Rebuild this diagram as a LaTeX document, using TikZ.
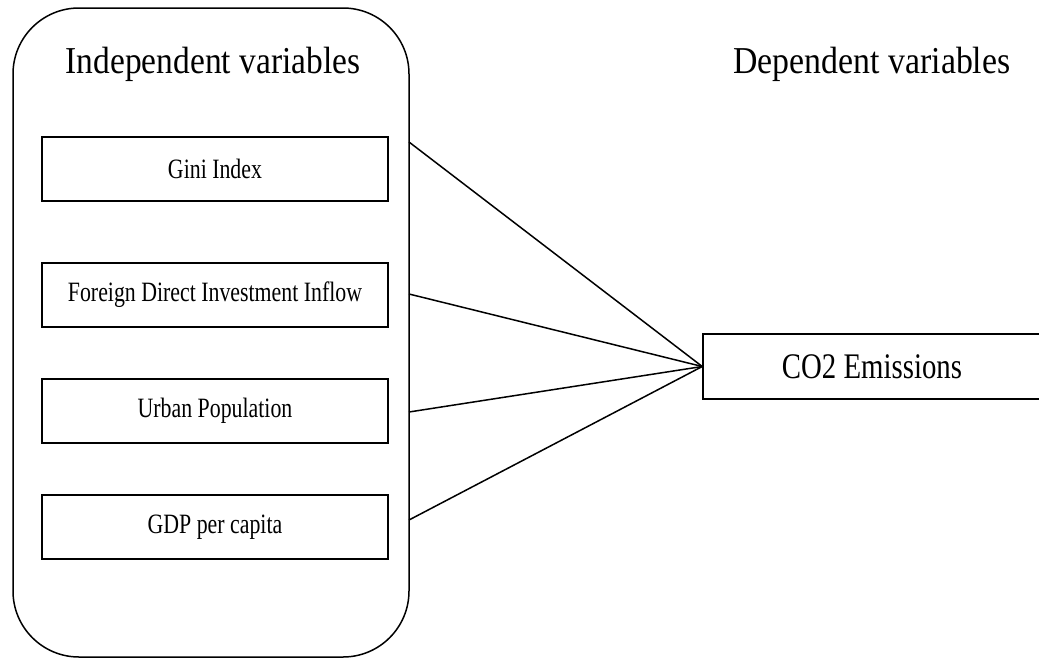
\documentclass[tikz,border=0pt]{standalone}
\usepackage{fontspec}
\setmainfont{Liberation Serif}
\begin{document}
\begin{tikzpicture}[x=1pt,y=-1pt,
  varbox/.style={draw,line width=1.5pt,minimum width=346pt,minimum height=64pt,inner sep=0pt,font=\fontsize{28}{30}\selectfont},
  conn/.style={line width=1.5pt},
  title/.style={anchor=base,inner sep=0pt,font=\fontsize{38}{40}\selectfont}]
\useasboundingbox (0,0) rectangle (1039,659);
\node[draw,line width=1.5pt,rounded corners=66pt,minimum width=396pt,minimum height=649pt,inner sep=0pt] (cont) at (211,332.5) {};
\node[title] (ttlA) at (213,73) {\scalebox{0.88}[1]{Independent variables}};
\node[title] (ttlB) at (872,73) {\scalebox{0.89}[1]{Dependent variables}};
\node[varbox] (gini) at (215,169) {\scalebox{0.78}[1]{Gini Index}};
\node[varbox] (fdi) at (215,295) {\scalebox{0.78}[1]{Foreign Direct Investment Inflow}};
\node[varbox] (urb) at (215,411) {\scalebox{0.78}[1]{Urban Population}};
\node[varbox] (gdp) at (215,527) {\scalebox{0.78}[1]{GDP per capita}};
\node[draw,line width=1.5pt,minimum width=338pt,minimum height=65pt,inner sep=0pt,font=\fontsize{36}{38}\selectfont] (co2) at (872,366.5) {\scalebox{0.8}[1]{CO2 Emissions}};
\coordinate (pA) at (409,142);
\coordinate (pB) at (409,294);
\coordinate (pC) at (409,412);
\coordinate (pD) at (409,520);
\draw[conn] (pA) -- (co2.west);
\draw[conn] (pB) -- (co2.west);
\draw[conn] (pC) -- (co2.west);
\draw[conn] (pD) -- (co2.west);
\end{tikzpicture}
\end{document}
